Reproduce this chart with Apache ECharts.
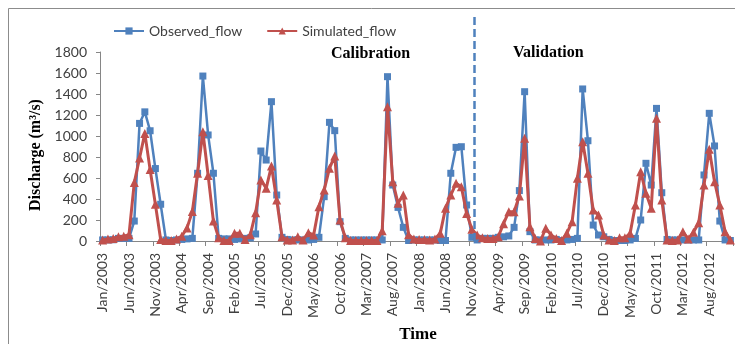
<!DOCTYPE html>
<html><head><meta charset="utf-8">
<script src="https://cdn.jsdelivr.net/npm/echarts@6/dist/echarts.min.js"></script>
<style>html,body{margin:0;padding:0;background:#fff}#c{width:735px;height:344px}</style>
</head><body><div id="c"></div>
<script>
const monthNames = ['Jan','Feb','Mar','Apr','May','Jun','Jul','Aug','Sep','Oct','Nov','Dec'];
const years = [2003,2004,2005,2006,2007,2008,2009,2010,2011,2012];
const categories = [];
years.forEach(y => monthNames.forEach(m => categories.push(m + '/' + y)));

const yTicks = [0,200,400,600,800,1000,1200,1400,1600,1800];

const observed = [
  10, 10, 12, 25, 25, 25, 190, 1120, 1230, 1050, 690, 350,
  10, 5, 10, 15, 20, 25, 645, 1571, 1010, 645, 25, 20,
  20, 15, 20, 25, 30, 67, 857, 771, 1327, 438, 35, 15,
  10, 10, 10, 10, 15, 35, 422, 1130, 1051, 184, 25, 10,
  10, 10, 10, 10, 10, 10, 1565, 533, 320, 130, 5, 10,
  10, 10, 10, 10, 5, 5, 645, 892, 898, 343, 35, 10,
  25, 25, 25, 35, 40, 48, 130, 480, 1422, 89, 10, 10,
  10, 10, 15, 5, 10, 15, 25, 1448, 955, 152, 57, 40,
  15, 5, 5, 5, 10, 25, 200, 740, 533, 1263, 460, 15,
  10, 10, 10, 10, 10, 10, 629, 1216, 905, 190, 10, 5
];
const simulated = [
  10, 20, 25, 40, 45, 60, 556, 790, 1025, 680, 349, 15,
  5, 5, 20, 45, 125, 280, 645, 1040, 625, 190, 30, 5,
  5, 73, 73, 15, 60, 270, 581, 502, 714, 390, 40, 10,
  10, 40, 10, 79, 57, 327, 486, 692, 810, 200, 30, 5,
  5, 5, 5, 5, 5, 98, 1279, 565, 359, 438, 60, 20,
  15, 15, 10, 20, 73, 311, 438, 549, 517, 263, 111, 57,
  30, 25, 25, 40, 165, 279, 279, 429, 978, 136, 25, 0,
  121, 57, 25, 5, 73, 184, 597, 946, 645, 295, 248, 57,
  10, 5, 30, 30, 73, 343, 660, 454, 311, 1168, 390, 10,
  5, 10, 89, 20, 83, 174, 533, 873, 565, 343, 89, 10
];
const splitMonthIndex = 71; // boundary between calibration and validation

const chart = echarts.init(document.getElementById('c'));
const axisGray = '#868686';
const labelColor = '#404040';
const sans = 'Lato';
const serif = '"Liberation Serif", "Times New Roman", serif';

chart.setOption({
  animation: false,
  backgroundColor: '#fff',
  legend: {
    data: ['Observed_flow', 'Simulated_flow'],
    left: 108, top: 19,
    itemWidth: 30, itemHeight: 9, itemGap: 24,
    textStyle: { fontFamily: sans, fontSize: 14, color: labelColor },
    selectedMode: false
  },
  grid: [
    { left: 100, right: 2, top: 52, bottom: 103, outerBoundsMode: 'none' },
    { left: 100, right: 2, top: 17, bottom: 103, outerBoundsMode: 'none' }
  ],
  xAxis: [
    {
      type: 'category', data: categories, boundaryGap: true, gridIndex: 0,
      axisLine: { lineStyle: { color: axisGray, width: 1 } },
      axisTick: { show: true, interval: 4, length: 5, lineStyle: { color: axisGray } },
      axisLabel: { interval: 4, rotate: 90, margin: 12, fontFamily: sans, fontSize: 14, color: labelColor, hideOverlap: false },
      splitLine: { show: false }
    },
    { type: 'value', gridIndex: 1, min: 0, max: 120, show: false }
  ],
  yAxis: [
    {
      type: 'value', min: yTicks[0], max: yTicks[yTicks.length - 1], interval: 200, gridIndex: 0,
      axisLine: { show: true, lineStyle: { color: axisGray, width: 1 } },
      axisTick: { show: true, length: 4, lineStyle: { color: axisGray } },
      axisLabel: { margin: 13, fontFamily: sans, fontSize: 14, color: labelColor, formatter: v => String(v) },
      splitLine: { show: false }
    },
    { type: 'value', gridIndex: 1, min: 0, max: 1, show: false }
  ],
  series: [
    {
      name: 'Observed_flow', type: 'line', data: observed,
      xAxisIndex: 0, yAxisIndex: 0,
      symbol: 'rect', symbolSize: 7, showAllSymbol: true,
      lineStyle: { color: '#4F81BD', width: 2.5 },
      itemStyle: { color: '#4F81BD' },
      z: 2
    },
    {
      name: 'Simulated_flow', type: 'line', data: simulated,
      xAxisIndex: 0, yAxisIndex: 0,
      symbol: 'triangle', symbolSize: 9, showAllSymbol: true,
      lineStyle: { color: '#C0504D', width: 3 },
      itemStyle: { color: '#C0504D' },
      z: 3
    },
    {
      name: 'split', type: 'line', data: [],
      xAxisIndex: 1, yAxisIndex: 1, silent: true,
      markLine: {
        silent: true, symbol: ['none', 'none'],
        label: { show: false },
        lineStyle: { color: '#4F81BD', type: [8, 4], width: 2.5 },
        emphasis: { disabled: true },
        data: [{ xAxis: splitMonthIndex }]
      }
    }
  ],
  graphic: [
    { type: 'polyline', silent: true, shape: { points: [[8.5, 344], [8.5, 8.5], [735, 8.5]] },
      style: { stroke: '#8c8c8c', lineWidth: 1, fill: null } },
    { type: 'text', left: 331, top: 46, silent: true,
      style: { text: 'Calibration', font: 'bold 16px ' + serif, fill: '#000' } },
    { type: 'text', left: 513, top: 45, silent: true,
      style: { text: 'Validation', font: 'bold 16px ' + serif, fill: '#000' } },
    { type: 'text', x: 418, y: 335, silent: true,
      style: { text: 'Time', font: 'bold 17px ' + serif, fill: '#000', align: 'center', verticalAlign: 'middle' } },
    { type: 'text', x: 36, y: 155, rotation: Math.PI / 2, silent: true,
      style: { text: 'Discharge (m³/s)', font: 'bold 16px ' + serif, fill: '#000', align: 'center', verticalAlign: 'middle' } }
  ]
});
</script>
</body></html>
